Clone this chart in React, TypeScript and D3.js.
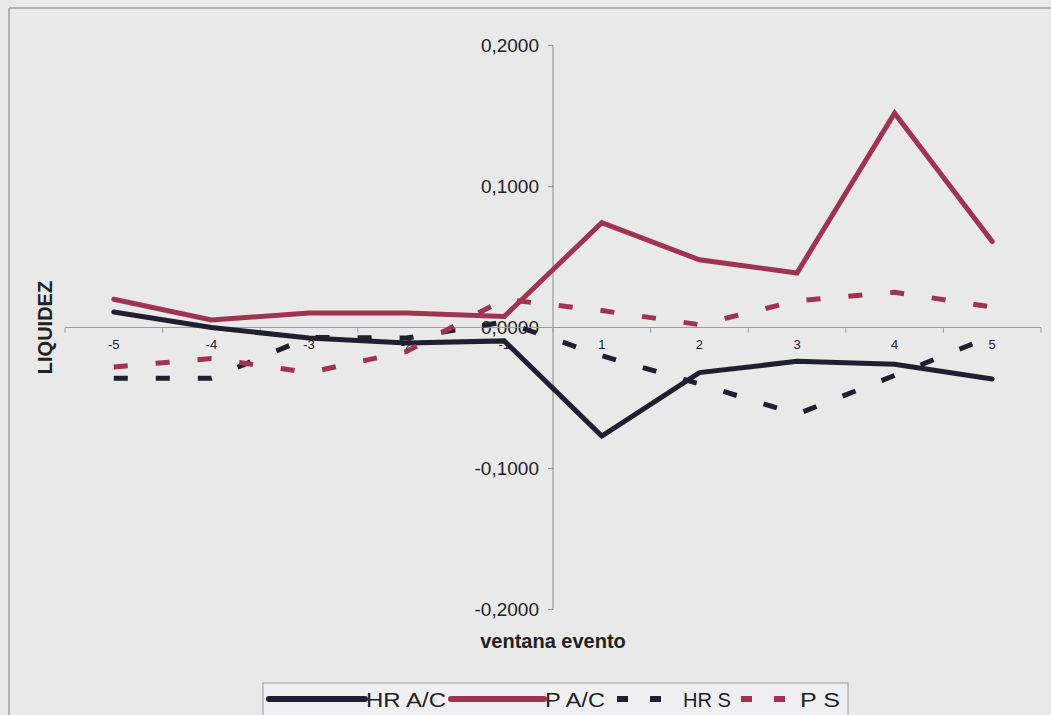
import React from "react";
import * as d3 from "d3";

// Event window categories (days around the event)
const categories = ["-5", "-4", "-3", "-2", "-1", "1", "2", "3", "4", "5"];

// Liquidity series
const hrAC = [0.011, 0.0, -0.0075, -0.011, -0.0095, -0.077, -0.032, -0.024, -0.026, -0.0365];
const pAC = [0.02, 0.0053, 0.0103, 0.0103, 0.0078, 0.0743, 0.048, 0.0387, 0.152, 0.061];
const hrS = [-0.036, -0.036, -0.007, -0.0075, 0.004, -0.02, -0.04, -0.0615, -0.034, -0.006];
const pS = [-0.028, -0.022, -0.032, -0.017, 0.02, 0.012, 0.002, 0.019, 0.025, 0.0145];

const yTicks = [0.2, 0.1, 0, -0.1, -0.2];

const DARK = "#1f1f30";
const RED = "#9f3351";
const FONT = "'Liberation Sans', Arial, sans-serif";

const series = [
  { name: "HR A/C", values: hrAC, color: DARK, dashed: false },
  { name: "P A/C", values: pAC, color: RED, dashed: false },
  { name: "HR S", values: hrS, color: DARK, dashed: true },
  { name: "P S", values: pS, color: RED, dashed: true },
];

const fmt = (v: number) => d3.format(".4f")(v).replace(".", ",").replace("−", "-");

export default function App() {
  const W = 1051;
  const H = 715;
  const x = d3.scaleBand<string>().domain(categories).range([65, 1041]).padding(0);
  const y = d3.scaleLinear().domain([-0.2, 0.2]).range([609.5, 45.5]);
  const axisX = x(categories[5])!;
  const cx = (c: string) => x(c)! + x.bandwidth() / 2;
  const line = d3
    .line<number>()
    .x((_, i) => cx(categories[i]))
    .y((d) => y(d));

  const boundaries = categories.map((c) => x(c)!).concat([x(categories[9])! + x.bandwidth()]);

  return (
    <svg
      width={W}
      height={H}
      style={{ position: "absolute", left: 0, top: 0, display: "block", background: "#e9e9e9" }}
      fontFamily={FONT}
    >
      <rect x={0} y={0} width={W} height={H} fill="#e9e9e9" />
      {/* outer chart frame */}
      <line x1={9} y1={8} x2={W} y2={8} stroke="#a0a0a0" strokeWidth={1.5} />
      <line x1={9} y1={8} x2={9} y2={H} stroke="#a0a0a0" strokeWidth={1.5} />

      {/* y axis */}
      <line x1={axisX} y1={y(0.2)} x2={axisX} y2={y(-0.2)} stroke="#8a8a8a" strokeWidth={1} />
      {yTicks.map((t) => (
        <g key={t}>
          <line x1={axisX - 5} x2={axisX} y1={y(t)} y2={y(t)} stroke="#8a8a8a" />
          <text
            x={axisX - 14}
            y={y(t)}
            textAnchor="end"
            dominantBaseline="central"
            fontSize={19}
            fill="#222"
          >
            {fmt(t)}
          </text>
        </g>
      ))}

      {/* x axis */}
      <line x1={65} x2={1041} y1={y(0)} y2={y(0)} stroke="#9a9aaa" strokeWidth={1} />
      {boundaries.map((b, i) => (
        <line key={i} x1={b} x2={b} y1={y(0)} y2={y(0) + 5} stroke="#9a9aaa" />
      ))}
      {categories.map((c) => (
        <text key={c} x={cx(c)} y={y(0) + 21} textAnchor="middle" fontSize={13} fill="#222">
          {c}
        </text>
      ))}

      {/* series */}
      {series.map((s) => (
        <path
          key={s.name}
          d={line(s.values) || ""}
          fill="none"
          stroke={s.color}
          strokeWidth={5}
          strokeLinejoin="miter"
          strokeLinecap={s.dashed ? "butt" : "round"}
          strokeDasharray={s.dashed ? "14 28" : undefined}
        />
      ))}

      {/* axis titles */}
      <text
        transform={`translate(45,${y(0)}) rotate(-90)`}
        textAnchor="middle"
        dominantBaseline="central"
        fontSize={20}
        fontWeight="bold"
        fill="#222"
      >
        LIQUIDEZ
      </text>
      <text x={axisX} y={641} textAnchor="middle" dominantBaseline="central" fontSize={20} fontWeight="bold" fill="#222">
        ventana evento
      </text>

      {/* legend */}
      <rect x={263} y={683} width={585} height={40} fill="#efeff2" stroke="#9a9a9a" strokeWidth={1} />
      <line x1={269} x2={365} y1={699} y2={699} stroke={DARK} strokeWidth={6} strokeLinecap="round" />
      <text x={366} y={700} dominantBaseline="central" fontSize={20} fill="#222" textLength={80} lengthAdjust="spacingAndGlyphs">
        HR A/C
      </text>
      <line x1={451} x2={544} y1={699} y2={699} stroke={RED} strokeWidth={6} strokeLinecap="round" />
      <text x={545} y={700} dominantBaseline="central" fontSize={20} fill="#222" textLength={60} lengthAdjust="spacingAndGlyphs">
        P A/C
      </text>
      <line x1={617} x2={662} y1={699} y2={699} stroke={DARK} strokeWidth={6} strokeDasharray="11 22" />
      <text x={683} y={700} dominantBaseline="central" fontSize={20} fill="#222" textLength={48} lengthAdjust="spacingAndGlyphs">
        HR S
      </text>
      <line x1={741} x2={786} y1={699} y2={699} stroke={RED} strokeWidth={6} strokeDasharray="11 22" />
      <text x={800} y={700} dominantBaseline="central" fontSize={20} fill="#222" textLength={40} lengthAdjust="spacingAndGlyphs">
        P S
      </text>
    </svg>
  );
}
